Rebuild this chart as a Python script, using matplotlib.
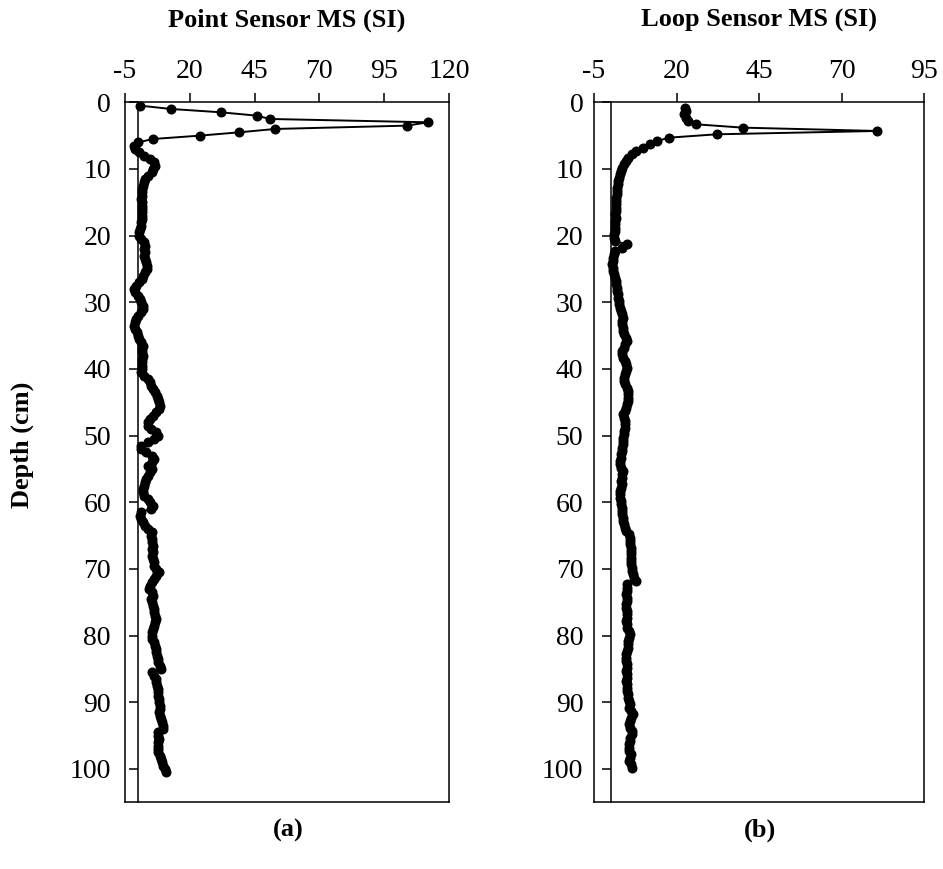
import matplotlib
matplotlib.use("Agg")
import matplotlib.pyplot as plt

plt.rcParams['font.family'] = ['Liberation Serif', 'DejaVu Serif']
plt.rcParams['axes.unicode_minus'] = False

# ---------------- data ----------------
title_a = "Point Sensor MS (SI)"
title_b = "Loop Sensor MS (SI)"
ylabel = "Depth (cm)"
xticks_a = [-5, 20, 45, 70, 95, 120]
xticks_b = [-5, 20, 45, 70, 95]
yticks = [0, 10, 20, 30, 40, 50, 60, 70, 80, 90, 100]

depth_a_start, depth_a_step = 0.5, 0.5
ms_point = [
    0.8, 12.7, 32.0, 45.8, 50.9, 112.0, 103.7, 52.9, 39.1, 23.9,   # 0.5-5.0
    5.9, 0.1, -1.5, -1.3, 0.5, 2.5, 4.6, 6.0, 6.6, 5.8,           # 5.5-10.0
    5.3, 3.8, 2.7, 2.2, 1.8, 1.4, 1.4, 1.6, 1.3, 1.5,             # 10.5-15.0
    1.7, 1.5, 1.6, 1.4, 1.6, 1.3, 1.0, 0.8, 0.5, 0.3,             # 15.5-20.0
    1.2, 2.2, 2.7, 2.5, 2.8, 2.4, 2.6, 3.0, 3.4, 3.6,             # 20.5-25.0
    2.8, 2.0, 1.4, 0.5, -0.8, -1.5, -1.2, 0.0, 0.8, 1.2,          # 25.5-30.0
    1.8, 2.0, 1.0, 0.0, -0.8, -1.3, -1.5, -1.0, -0.5, 0.0,        # 30.5-35.0
    0.3, 1.2, 1.8, 1.7, 1.6, 1.8, 1.6, 1.5, 1.6, 1.4,             # 35.5-40.0
    1.2, 2.5, 4.0, 4.6, 5.2, 5.8, 6.6, 7.2, 7.8, 8.3,             # 40.5-45.0
    8.5, 8.2, 7.0, 5.8, 4.6, 4.0, 4.0, 5.2, 6.8, 7.7,             # 45.5-50.0
    6.0, 4.0, 1.0, 1.0, 3.0, 5.6, 6.2, 5.3, 4.0, 5.3,             # 50.5-55.0
    4.5, 3.8, 3.2, 2.7, 2.2, 1.8, 1.8, 2.5, 3.8, 4.6,             # 55.5-60.0
    5.7, 5.0, 1.0, 0.6, 1.2, 2.0, 2.8, 3.8, 5.3, 5.0,             # 60.5-65.0
    5.4, 5.6, 5.9, 5.5, 5.8, 5.6, 5.7, 6.0, 6.2, 6.8,             # 65.5-70.0
    8.2, 6.8, 6.2, 5.5, 4.8, 4.4, 5.5, 5.8, 5.2, 5.3,             # 70.5-75.0
    5.8, 6.0, 6.2, 6.4, 6.8, 6.5, 6.0, 5.8, 5.6, 5.4,             # 75.5-80.0
    5.3, 6.0, 6.4, 6.8, 7.1, 7.4, 7.6, 7.9, 8.4, 9.0,             # 80.5-85.0
    5.3, 6.2, 6.8, 7.1, 7.5, 7.8, 7.6, 7.9, 8.2, 8.3,             # 85.5-90.0
    8.5, 8.5, 8.0, 8.4, 8.8, 9.2, 9.6, 9.8, 7.7, 7.8,             # 90.5-95.0
    8.2, 7.9, 7.6, 7.7, 7.7, 8.4, 9.0, 9.3, 9.8, 10.4,            # 95.5-100.0
    11.0,                                                          # 100.5
]

depth_b_start, depth_b_step = 0.8, 0.5
ms_loop = [
    22.6, 22.9, 22.4, 23.0, 23.4, 25.9, 40.0, 80.8, 32.2, 17.8,
    14.2, 12.0, 9.8, 7.8, 6.4, 5.4, 4.6, 4.0, 3.5, 3.1,
    2.8, 2.5, 2.4, 2.2, 2.1, 1.9, 1.9, 1.7, 1.6, 1.7,
    1.6, 1.7, 1.5, 1.6, 1.4, 1.5, 1.4, 1.3, 1.2, 1.2,
    1.3, 4.9, 3.4, 1.4, 1.0, 0.8, 0.7, 0.6, 0.7, 0.8,
    1.1, 1.4, 1.6, 1.8, 2.0, 2.1, 2.2, 2.4, 2.6, 2.7,
    2.9, 3.1, 3.5, 3.9, 3.6, 3.5, 3.7, 3.7, 4.2, 4.7,
    5.1, 4.5, 4.0, 3.6, 3.4, 3.8, 4.3, 4.6, 4.9, 4.7,
    4.4, 4.2, 4.1, 4.5, 4.9, 5.2, 5.4, 5.3, 5.2, 5.0,
    4.8, 4.5, 3.9, 4.1, 4.3, 4.4, 4.4, 4.2, 4.0, 3.9,
    3.8, 3.7, 3.5, 3.4, 3.3, 3.1, 3.0, 2.9, 3.3, 3.7,
    3.4, 3.4, 3.3, 3.4, 3.2, 3.0, 2.9, 3.0, 3.2, 3.3,
    3.5, 3.4, 3.6, 3.7, 3.9, 4.1, 4.4, 4.8, 5.5, 5.9,
    5.9, 6.0, 6.1, 6.1, 6.2, 6.2, 6.3, 6.3, 6.4, 6.5,
    6.7, 7.2, 7.7, 4.9, 5.1, 5.0, 4.8, 4.9, 4.9, 4.7,
    4.8, 4.9, 5.0, 4.9, 4.7, 4.9, 5.1, 5.5, 5.9, 5.6,
    5.4, 5.3, 5.2, 5.0, 4.8, 4.6, 4.8, 5.0, 4.9, 4.8,
    4.9, 5.1, 4.7, 4.9, 5.0, 5.1, 5.2, 5.3, 5.6, 5.9,
    5.7, 6.2, 6.9, 6.3, 5.8, 5.6, 6.0, 6.5, 6.4, 6.0,
    5.8, 5.6, 5.5, 5.7, 6.1, 5.9, 5.6, 6.2, 6.4,
]

depth_a = [depth_a_start + depth_a_step * i for i in range(len(ms_point))]
depth_b = [depth_b_start + depth_b_step * i for i in range(len(ms_loop))]

# ---------------- figure ----------------
W, H = 943, 869
fig = plt.figure(figsize=(W / 100, H / 100), dpi=100)

ax_h = (802.3 - 102.3) / H
ax_b = 1 - 802.3 / H
axA = fig.add_axes([125 / W, ax_b, 324 / W, ax_h])
axB = fig.add_axes([594 / W, ax_b, 330 / W, ax_h])

panels = [
    (axA, ms_point, depth_a, xticks_a, title_a, "(a)"),
    (axB, ms_loop, depth_b, xticks_b, title_b, "(b)"),
]

fs_tick = 20
fs_lab = 19
for ax, vals, dep, xt, ttl, lab in panels:
    ax.plot(vals, dep, color='black', lw=1.4, marker='o', markersize=6.2,
            markerfacecolor='black', markeredgecolor='black', clip_on=False, zorder=3)
    ax.set_xlim(xt[0], xt[-1])
    ax.set_ylim(105, 0)
    ax.set_xticks(xt)
    ax.set_yticks(yticks)
    ax.xaxis.tick_top()
    ax.spines['left'].set_position(('data', 0))
    for s in ax.spines.values():
        s.set_linewidth(1.1)
        s.set_color('black')
    ax.plot([0, 0], [0, 1], transform=ax.transAxes, color='black', lw=1.1,
            clip_on=False, zorder=4)
    ax.tick_params(axis='x', direction='out', length=6.5, width=1.1,
                   pad=7, labelsize=fs_tick)
    ax.tick_params(axis='y', direction='out', length=6.5, width=1.1,
                   pad=13, labelsize=fs_tick)
    ax.tick_params(axis='both', which='both', top=True, bottom=False,
                   left=True, right=False)
    ax.text(0.5, 1 + (102.3 - 20) / 700, ttl, transform=ax.transAxes,
            ha='center', va='center', fontsize=fs_lab, fontweight='bold')
    ax.text(0.503, -(830 - 802.3) / 700, lab, transform=ax.transAxes,
            ha='center', va='center', fontsize=fs_lab, fontweight='bold')

fig.text(22 / W, 1 - 445 / H, ylabel, rotation=90, ha='center', va='center',
         fontsize=fs_lab, fontweight='bold')

fig.savefig("out.png", dpi=100, facecolor='white')
